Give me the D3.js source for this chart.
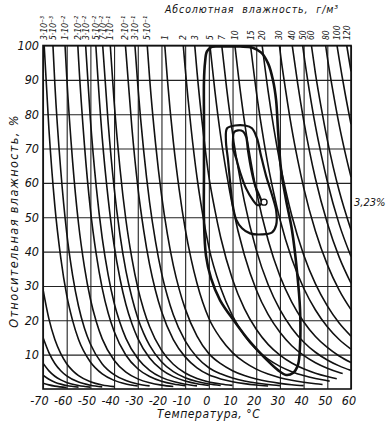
<!DOCTYPE html>
<html><head><meta charset="utf-8">
<script src="https://cdn.jsdelivr.net/npm/d3@7"></script>
<style>
html,body{margin:0;padding:0;background:#fff;}
svg{display:block;}
text{font-family:"Liberation Sans Narrow","DejaVu Sans Condensed","Liberation Sans",sans-serif;font-style:italic;fill:#111;}
</style></head><body>
<svg id="c" width="391" height="422"></svg>
<script>
// ---- data ----
const xTicks = [-70,-60,-50,-40,-30,-20,-10,0,10,20,30,40,50,60];
const yTicks = [10,20,30,40,50,60,70,80,90,100];
const absHumidityLabels = ["3·10⁻³","5·10⁻³","1·10⁻²","2·10⁻²","3·10⁻²","5·10⁻²","7·10⁻²","1·10⁻¹","2·10⁻¹","3·10⁻¹","5·10⁻¹","1","2","3","5","7","10","15","20","30","40","50","60","80","100","120"];
// curves of constant absolute humidity: [temperature °C, relative humidity %]
const labeledCurves = [
 [[-69.5,100],[-67.5,75.7],[-65,53.3],[-62.5,38.2],[-60,27.3],[-57.5,19.9],[-55,14.4],[-50,7.85],[-45,4.39],[-40,2.51],[-35,1.48],[-30,0.89]],
 [[-65.8,100],[-65,88.8],[-62.5,63.6],[-60,45.5],[-57.5,33.1],[-55,24.1],[-52.5,17.7],[-50,13.1],[-45,7.31],[-40,4.19],[-35,2.46],[-30,1.48],[-25,0.9]],
 [[-60.7,100],[-60,91.1],[-57.5,66.2],[-55,48.1],[-52.5,35.5],[-50,26.2],[-47.5,19.6],[-45,14.6],[-40,8.38],[-35,4.92],[-30,2.95],[-25,1.81],[-20,1.13],[-15,0.72]],
 [[-55.3,100],[-55,96.2],[-52.5,71.0],[-50,52.3],[-47.5,39.1],[-45,29.3],[-42.5,22.1],[-40,16.8],[-35,9.83],[-30,5.9],[-25,3.62],[-20,2.26],[-15,1.44],[-10,0.93]],
 [[-52,100],[-50,78.5],[-47.5,58.7],[-45,43.9],[-42.5,33.2],[-40,25.1],[-37.5,19.3],[-35,14.75],[-30,8.86],[-25,5.43],[-20,3.39],[-15,2.16],[-10,1.4],[-5,0.92]],
 [[-47.7,100],[-47.5,97.8],[-45,73.1],[-42.5,55.4],[-40,41.9],[-37.5,32.1],[-35,24.6],[-32.5,19.05],[-30,14.76],[-25,9.05],[-20,5.65],[-15,3.6],[-10,2.34],[-5,1.54],[0,1.03]],
 [[-44.8,100],[-42.5,77.5],[-40,58.7],[-37.5,44.9],[-35,34.4],[-32.5,26.7],[-30,20.7],[-27.5,16.2],[-25,12.7],[-20,7.92],[-15,5.04],[-10,3.27],[-5,2.16],[0,1.44],[5,1.03]],
 [[-41.6,100],[-40,83.8],[-37.5,64.2],[-35,49.2],[-32.5,38.1],[-30,29.5],[-27.5,23.1],[-25,18.1],[-20,11.3],[-15,7.2],[-10,4.67],[-5,3.08],[0,2.06],[5,1.47],[10,1.06]],
 [[-35.2,100],[-35,98.3],[-32.5,76.2],[-30,59.0],[-27.5,46.2],[-25,36.2],[-22.5,28.6],[-20,22.6],[-15,14.4],[-10,9.35],[-5,6.16],[0,4.13],[5,2.94],[10,2.13],[15,1.56],[20,1.16],[25,0.87]],
 [[-31.2,100],[-30,88.6],[-27.5,69.3],[-25,54.3],[-22.5,42.9],[-20,33.9],[-17.5,27.1],[-15,21.6],[-10,14.0],[-5,9.24],[0,6.19],[5,4.41],[10,3.19],[15,2.34],[20,1.74],[25,1.3],[30,0.99]],
 [[-26,100],[-25,90.5],[-22.5,71.5],[-20,56.6],[-17.5,45.1],[-15,36.0],[-12.5,29.0],[-10,23.4],[-5,15.4],[0,10.3],[5,7.36],[10,5.32],[15,3.9],[20,2.89],[25,2.17],[30,1.65],[35,1.26],[40,0.98]],
 [[-18.6,100],[-17.5,90.2],[-15,72.0],[-12.5,58.0],[-10,46.7],[-7.5,37.9],[-5,30.8],[0,20.6],[5,14.7],[10,10.6],[15,7.8],[20,5.78],[25,4.34],[30,3.29],[35,2.53],[40,1.96],[45,1.53],[48,1.33]],
 [[-10.8,100],[-10,93.5],[-7.5,75.9],[-5,61.6],[-2.5,50.4],[0,41.3],[5,29.4],[10,21.3],[15,15.6],[20,11.6],[25,8.68],[30,6.59],[35,5.05],[40,3.91],[45,3.06],[50,2.42],[51,2.3]],
 [[-5.95,100],[-5,92.4],[-2.5,75.6],[0,61.9],[2.5,52.3],[5,44.1],[10,31.9],[15,23.4],[20,17.4],[25,13.0],[30,9.88],[35,7.58],[40,5.87],[45,4.59],[50,3.62],[54,3.0]],
 [[0.46,100],[2.5,87.1],[5,73.6],[7.5,62.6],[10,53.2],[15,39.0],[20,28.9],[25,21.7],[30,16.5],[35,12.6],[40,9.79],[45,7.65],[50,6.04],[55,4.8],[56.5,4.5]],
 [[5.45,100],[7.5,87.6],[10,74.5],[12.5,63.8],[15,54.6],[20,40.5],[25,30.4],[30,23.1],[35,17.7],[40,13.7],[45,10.7],[50,8.45],[55,6.73],[60,5.4]],
 [[11,100],[12.5,91.1],[15,78.0],[17.5,67.2],[20,57.8],[25,43.4],[30,32.9],[35,25.3],[40,19.6],[45,15.3],[50,12.1],[55,9.61],[60,7.71]],
 [[17.6,100],[20,86.8],[22.5,75.2],[25,65.1],[27.5,56.7],[30,49.4],[35,37.9],[40,29.4],[45,23.0],[50,18.1],[55,14.4],[60,11.6]],
 [[22.5,100],[25,86.8],[27.5,75.6],[30,65.9],[32.5,57.7],[35,50.5],[40,39.1],[45,30.6],[50,24.2],[55,19.2],[60,15.4]],
 [[29.8,100],[30,98.8],[32.5,86.6],[35,75.8],[37.5,66.7],[40,58.7],[45,45.9],[50,36.2],[55,28.8],[60,23.1]],
 [[35.2,100],[37.5,88.9],[40,78.3],[42.5,69.2],[45,61.2],[50,48.3],[55,38.4],[60,30.8]],
 [[39.6,100],[40,97.9],[42.5,86.5],[45,76.5],[47.5,68.0],[50,60.4],[55,48.0],[60,38.6]],
 [[43.3,100],[45,91.8],[47.5,81.6],[50,72.5],[52.5,64.6],[55,57.7],[60,46.3]],
 [[49.3,100],[50,96.6],[52.5,86.2],[55,76.9],[57.5,68.9],[60,61.7]],
 [[54.1,100],[55,96.1],[57.5,86.1],[60,77.1]],
 [[58.2,100],[60,92.5]]
];
const unlabeledCurves = [
 [[-70,29],[-67.5,20.4],[-65,14.4],[-62.5,10.3],[-60,7.37],[-57.5,5.36],[-55,3.89],[-50,2.12],[-45,1.18],[-40,0.68]],
 [[-70,15],[-67.5,10.6],[-65,7.43],[-62.5,5.32],[-60,3.81],[-55,2.01],[-50,1.09],[-45,0.61]],
 [[-70,7.5],[-67.5,5.28],[-65,3.71],[-62.5,2.66],[-60,1.9],[-55,1.01],[-50,0.55]],
 [[-70,4],[-67.5,2.82],[-65,1.98],[-62.5,1.42],[-60,1.02],[-55,0.54]],
 [[-70,1.7],[-67.5,1.2],[-65,0.84],[-60,0.43]]
];
// closed contours
const outerLoop = [[-1.6,95.1],[-0.8,98.3],[1.3,99.6],[5.5,99.7],[13.2,99.7],[18.2,99.4],[22.0,98.0],[25.0,94.8],[27.1,89.8],[28.4,84.0],[29.2,75.3],[30.5,63.7],[32.6,55.0],[35.1,46.2],[37.2,34.3],[38.5,23.0],[38.5,12.8],[37.6,7.0],[35.5,4.65],[32.6,4.1],[29.2,5.5],[23.7,9.0],[17.4,13.7],[11.0,19.5],[4.7,25.9],[0.9,32.3],[-1.2,38.8],[-2.05,49.1],[-2.05,63.7],[-2.05,78.2],[-2.05,89.8]];
const middleLoop = [[7.2,72.4],[7.7,75.9],[11.0,76.7],[15.3,76.7],[18.2,75.9],[20.3,73.0],[22.0,68.0],[24.1,62.2],[26.7,56.4],[28.4,52.0],[28.4,47.7],[26.7,45.6],[22.4,45.0],[17.4,45.3],[14.0,46.8],[11.5,49.4],[9.8,55.0],[8.9,60.8],[8.1,66.6]];
const innerLoop = [[10.2,72.4],[10.6,74.7],[12.3,75.3],[14.4,75.0],[15.7,73.5],[16.5,69.5],[17.8,64.2],[19.5,59.3],[21.6,55.8],[22.4,54.1],[20.7,53.5],[18.6,55.0],[15.7,58.4],[13.2,63.1],[11.5,67.2],[10.2,70.1]];
const markerPoint = [23.3,54.4];
const markerLabel = "3,23%";

// ---- drawing ----
const svg = d3.select("#c");
const L=43,R=351,T=45.5,B=389;
const x = d3.scaleLinear().domain([-70,60]).range([L,R]);
const y = d3.scaleLinear().domain([0,100]).range([B,T]);

svg.append("defs").append("clipPath").attr("id","plot")
  .append("rect").attr("x",L).attr("y",T-1).attr("width",R-L).attr("height",B-T+1);

// grid via axes
const gx = svg.append("g").attr("transform",`translate(0,${B})`)
  .call(d3.axisBottom(x).tickValues(xTicks).tickSize(-(B-T)).tickPadding(7)
    .tickFormat(d => d<0 ? "-"+Math.abs(d) : String(d)));
gx.select(".domain").remove();
gx.selectAll("line").attr("stroke","#222").attr("stroke-width",1.1);
gx.selectAll("text").attr("font-size",12.5).attr("fill","#111")
  .attr("dx", d => d<0 ? -4 : -2.5);

const gy = svg.append("g").attr("transform",`translate(${L},0)`)
  .call(d3.axisLeft(y).tickValues(yTicks).tickSize(-(R-L)).tickPadding(4));
gy.select(".domain").remove();
gy.selectAll("line").attr("stroke","#222").attr("stroke-width",1.1);
gy.selectAll("text").attr("font-size",12.5).attr("fill","#111");

// frame
svg.append("rect").attr("x",L).attr("y",T).attr("width",R-L).attr("height",B-T)
  .attr("fill","none").attr("stroke","#111").attr("stroke-width",1.6);

const line = d3.line().x(d=>x(d[0])).y(d=>y(d[1])).curve(d3.curveMonotoneX);
const cg = svg.append("g").attr("clip-path","url(#plot)");
cg.selectAll("path.c").data(labeledCurves.concat(unlabeledCurves)).join("path")
  .attr("class","c").attr("d",line).attr("fill","none")
  .attr("stroke","#111").attr("stroke-width",1.6);

const loop = d3.line().x(d=>x(d[0])).y(d=>y(d[1])).curve(d3.curveCatmullRomClosed.alpha(0.5));
[outerLoop, middleLoop, innerLoop].forEach((lp,i)=>{
  svg.append("path").attr("d",loop(lp)).attr("fill","none")
    .attr("stroke","#111").attr("stroke-width", i===0 ? 2.6 : 2.2);
});
svg.append("circle").attr("cx",x(markerPoint[0])).attr("cy",y(markerPoint[1])).attr("r",3)
  .attr("fill","#fff").attr("stroke","#111").attr("stroke-width",1.4);
svg.append("text").attr("x",R+3).attr("y",y(markerPoint[1])+4).attr("font-size",11).text(markerLabel);

// top labels
svg.append("g").selectAll("text").data(labeledCurves).join("text")
  .attr("transform", d => `translate(${x(d[0][0])},40) rotate(-90)`)
  .attr("dy","0.35em").attr("font-size",8.5).attr("text-anchor","start")
  .text((d,i)=>absHumidityLabels[i]);

// titles
svg.append("text").attr("x",165).attr("y",13).attr("font-size",10.5)
  .attr("letter-spacing",0.9).attr("word-spacing",4).text("Абсолютная влажность, г/м³");
svg.append("text").attr("x",157).attr("y",418).attr("font-size",12)
  .attr("letter-spacing",0.6).text("Температура, °С");
svg.append("text").attr("transform","translate(18,221) rotate(-90)").attr("text-anchor","middle")
  .attr("font-size",12.5).attr("letter-spacing",1.4).text("Относительная влажность, %");
</script>
</body></html>
